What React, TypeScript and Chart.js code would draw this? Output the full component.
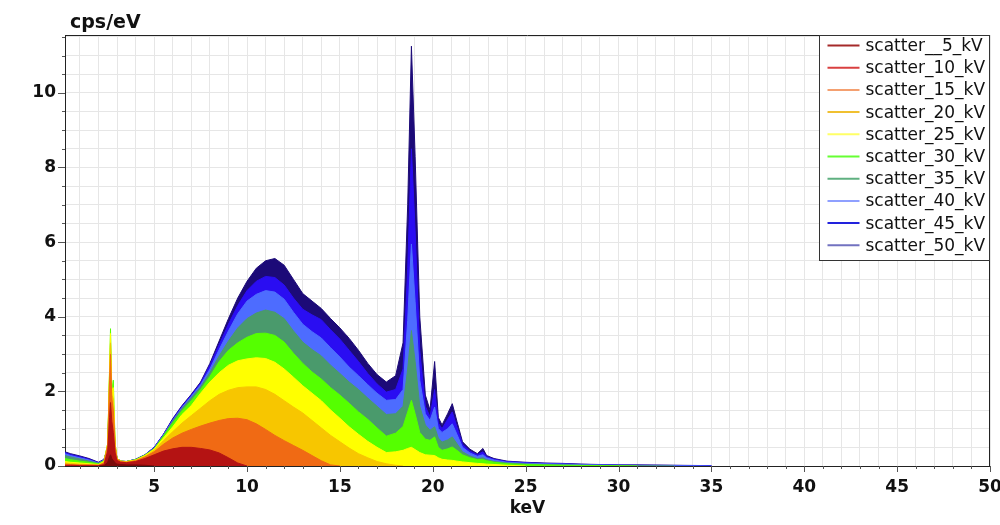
import React, { useEffect, useRef } from "react";
import { Chart, registerables } from "chart.js";

Chart.register(...registerables);

// Energy grid (keV)
const energyKeV = [
  0.2, 0.5, 1.0, 1.5, 2.0, 2.3, 2.5, 2.6, 2.65, 2.72,
  2.8, 2.9, 3.0, 3.2, 3.5, 4.0, 4.5, 5.0, 5.5, 6.0,
  6.5, 7.0, 7.5, 8.0, 8.5, 9.0, 9.5, 10.0, 10.5, 11.0,
  11.5, 12.0, 12.5, 13.0, 13.5, 14.0, 14.5, 15.0, 15.5, 16.0,
  16.5, 17.0, 17.5, 18.0, 18.4, 18.65, 18.85, 19.05, 19.3, 19.6,
  19.85, 20.1, 20.3, 20.5, 20.8, 21.05, 21.3, 21.6, 22.0, 22.4,
  22.7, 22.9, 23.3, 24.0, 25.0, 26, 27, 28, 29, 30,
  31, 33, 35,
];

// Series (cps/eV) — shorter arrays end where the spectrum ends
const scatter5kV = [
  null, null, null, null, 0, 0.01, 0.1, 0.25, 0.3, 0.2,
  0.15, 0.08, 0.05, 0.04, 0.03, 0.03, 0.02, 0,
];
const scatter10kV = [
  0.02, 0.02, 0.01, 0.01, 0.01, 0.04, 0.4, 1.3, 1.7, 1.2,
  0.9, 0.35, 0.15, 0.1, 0.09, 0.12, 0.2, 0.3, 0.4, 0.46,
  0.5, 0.5, 0.47, 0.43, 0.35, 0.22, 0.08, 0,
];
const scatter15kV = [
  0.05, 0.04, 0.03, 0.03, 0.02, 0.08, 0.55, 2.3, 3.0, 1.8,
  1.5, 0.5, 0.18, 0.12, 0.1, 0.14, 0.24, 0.38, 0.58, 0.75,
  0.88, 0.98, 1.07, 1.15, 1.22, 1.27, 1.28, 1.24, 1.13, 0.98,
  0.82, 0.68, 0.55, 0.42, 0.28, 0.14, 0.03, 0,
];
const scatter20kV = [
  0.08, 0.07, 0.05, 0.04, 0.03, 0.1, 0.6, 2.5, 3.3, 1.9,
  1.8, 0.55, 0.2, 0.13, 0.11, 0.15, 0.26, 0.42, 0.68, 0.92,
  1.15, 1.35, 1.55, 1.75, 1.92, 2.03, 2.1, 2.12, 2.12, 2.05,
  1.92, 1.75, 1.58, 1.42, 1.22, 1.02, 0.82, 0.65, 0.48, 0.33,
  0.22, 0.12, 0.06, 0.02, 0,
];
const scatter25kV = [
  0.12, 0.1, 0.08, 0.06, 0.04, 0.12, 0.6, 2.6, 3.55, 2.0,
  2.1, 0.6, 0.2, 0.13, 0.12, 0.16, 0.28, 0.45, 0.75, 1.05,
  1.38, 1.62, 1.95, 2.25, 2.5, 2.7, 2.82, 2.87, 2.9, 2.88,
  2.78, 2.6, 2.38, 2.15, 1.95, 1.75, 1.5, 1.28, 1.05, 0.85,
  0.66, 0.5, 0.36, 0.38, 0.42, 0.47, 0.5, 0.44, 0.36, 0.3,
  0.29, 0.28, 0.22, 0.18, 0.16, 0.15, 0.13, 0.11, 0.09, 0.07,
  0.06, 0.05, 0.04, 0.02, 0,
];
const scatter30kV = [
  0.2, 0.17, 0.13, 0.1, 0.06, 0.14, 0.6, 2.6, 3.68, 2.0,
  2.3, 0.6, 0.2, 0.13, 0.12, 0.17, 0.29, 0.46, 0.8, 1.15,
  1.48, 1.75, 2.05, 2.4, 2.8, 3.1, 3.3, 3.45, 3.55, 3.56,
  3.5, 3.32, 3.02, 2.75, 2.52, 2.33, 2.1, 1.9, 1.68, 1.45,
  1.25, 1.02, 0.8, 0.88, 1.06, 1.45, 1.76, 1.4, 0.9, 0.72,
  0.69, 0.78, 0.5, 0.42, 0.46, 0.51, 0.42, 0.3, 0.22, 0.17,
  0.17, 0.14, 0.1, 0.06, 0.04, 0.03, 0.02, 0.015, 0.01, 0.005,
  0,
];
const scatter35kV = [
  0.28, 0.24, 0.19, 0.13, 0.07, 0.15, 0.55, 2.4, 3.3, 1.9,
  1.6, 0.55, 0.2, 0.13, 0.12, 0.17, 0.29, 0.47, 0.82, 1.2,
  1.54, 1.83, 2.12, 2.5, 2.95, 3.35, 3.7, 3.95, 4.1, 4.18,
  4.12, 3.95, 3.62, 3.32, 3.12, 2.95, 2.7, 2.48, 2.25, 2.05,
  1.82, 1.6, 1.38, 1.4, 1.6, 2.6, 3.63, 2.8, 1.6, 1.1,
  0.96, 1.05, 0.75, 0.64, 0.7, 0.78, 0.6, 0.38, 0.27, 0.2,
  0.22, 0.17, 0.12, 0.08, 0.055, 0.04, 0.03, 0.02, 0.015, 0.01,
  0.005, 0,
];
const scatter40kV = [
  0.33, 0.28, 0.22, 0.16, 0.08, 0.16, 0.5, 2.2, 3.1, 1.8,
  1.4, 0.5, 0.2, 0.13, 0.12, 0.17, 0.29, 0.48, 0.83, 1.22,
  1.57, 1.87, 2.18, 2.6, 3.12, 3.62, 4.08, 4.42, 4.6, 4.7,
  4.66, 4.47, 4.12, 3.8, 3.6, 3.43, 3.17, 2.92, 2.65, 2.42,
  2.18, 1.95, 1.76, 1.78, 2.05, 3.9, 5.95, 4.4, 2.3, 1.4,
  1.22, 1.58, 1.0, 0.9, 1.0, 1.13, 0.85, 0.5, 0.35, 0.26,
  0.3, 0.22, 0.16, 0.1, 0.075, 0.06, 0.05, 0.035, 0.028, 0.02,
  0.015, 0.01, 0,
];
const scatter45kV = [
  0.36, 0.31, 0.25, 0.18, 0.09, 0.17, 0.5, 2.1, 2.9, 1.7,
  1.3, 0.5, 0.2, 0.13, 0.12, 0.18, 0.3, 0.5, 0.85, 1.25,
  1.6, 1.9, 2.22, 2.7, 3.25, 3.8, 4.3, 4.7, 4.95, 5.08,
  5.05, 4.85, 4.5, 4.2, 4.05, 3.92, 3.65, 3.4, 3.1, 2.8,
  2.48, 2.2, 1.98, 2.05, 2.6, 5.3, 8.5, 6.3, 3.1, 1.6,
  1.32, 2.05, 1.15, 1.0, 1.25, 1.45, 1.05, 0.58, 0.4, 0.3,
  0.38, 0.25, 0.18, 0.12, 0.09, 0.07, 0.06, 0.045, 0.035, 0.028,
  0.022, 0.015, 0.008,
];
const scatter50kV = [
  0.38, 0.33, 0.27, 0.2, 0.1, 0.18, 0.5, 2.0, 2.75, 1.6,
  1.2, 0.5, 0.2, 0.13, 0.12, 0.18, 0.3, 0.5, 0.85, 1.27,
  1.62, 1.92, 2.25, 2.75, 3.35, 3.95, 4.5, 4.95, 5.3, 5.5,
  5.56, 5.38, 5.0, 4.62, 4.42, 4.22, 3.95, 3.7, 3.42, 3.1,
  2.75, 2.45, 2.25, 2.42, 3.3, 7.0, 11.25, 8.3, 4.0, 1.9,
  1.5, 2.8, 1.3, 1.1, 1.4, 1.67, 1.2, 0.65, 0.45, 0.33,
  0.47, 0.28, 0.2, 0.13, 0.1, 0.08, 0.07, 0.05, 0.04, 0.03,
  0.03, 0.02, 0.01,
];

const seriesLabels = [
  "scatter__5_kV", "scatter_10_kV", "scatter_15_kV", "scatter_20_kV", "scatter_25_kV",
  "scatter_30_kV", "scatter_35_kV", "scatter_40_kV", "scatter_45_kV", "scatter_50_kV",
];
const seriesValues = [
  scatter5kV, scatter10kV, scatter15kV, scatter20kV, scatter25kV,
  scatter30kV, scatter35kV, scatter40kV, scatter45kV, scatter50kV,
];
const fillColors = [
  "#7a0a0a", "#b41313", "#f06a14", "#f7c600", "#ffff00",
  "#55ff00", "#4a9a6c", "#4d6cff", "#2a0df2", "#1c0a78",
];
const legendLineColors = [
  "#a52a2a", "#d94040", "#f4a070", "#f0c030", "#ffff66",
  "#66ff33", "#5fb080", "#8fa0ff", "#2222dd", "#7272c0",
];

const xLabelledTicks = [5, 10, 15, 20, 25, 30, 35, 40, 45, 50];
const yLabelledTicks = [0, 2, 4, 6, 8, 10];
const xMinorStep = 1;
const yMinorStep = 0.5;
const xRange = [0.2, 50];
const yRange = [0, 11.55];
const yAxisTitle = "cps/eV";
const xAxisTitle = "keV";

const FONT = "'DejaVu Sans', Verdana, sans-serif";

const decorPlugin = {
  id: "decor",
  afterDraw(chart: any) {
    const { ctx, chartArea: a, scales } = chart;
    const xs = scales.x;
    const ys = scales.y;
    ctx.save();
    // frame top & right
    ctx.strokeStyle = "#222";
    ctx.lineWidth = 1;
    ctx.beginPath();
    ctx.moveTo(a.left, Math.round(a.top) + 0.5);
    ctx.lineTo(a.right, Math.round(a.top) + 0.5);
    ctx.moveTo(Math.round(a.right) - 0.5, a.top);
    ctx.lineTo(Math.round(a.right) - 0.5, a.bottom);
    ctx.stroke();
    // tick marks
    ctx.strokeStyle = "#555";
    xs.ticks.forEach((t: any) => {
      const px = Math.round(xs.getPixelForValue(t.value)) + 0.5;
      const len = xLabelledTicks.includes(t.value) ? 6 : 3;
      ctx.beginPath();
      ctx.moveTo(px, a.bottom);
      ctx.lineTo(px, a.bottom + len);
      ctx.stroke();
    });
    ys.ticks.forEach((t: any) => {
      const py = Math.round(ys.getPixelForValue(t.value)) + 0.5;
      const len = yLabelledTicks.includes(t.value) ? 7 : 3;
      ctx.beginPath();
      ctx.moveTo(a.left - len, py);
      ctx.lineTo(a.left, py);
      ctx.stroke();
    });
    // y unit title
    ctx.fillStyle = "#111";
    ctx.font = `bold 19px ${FONT}`;
    ctx.textBaseline = "alphabetic";
    ctx.textAlign = "left";
    ctx.fillText(yAxisTitle, a.left + 5, a.top - 7);
    // legend box
    const lw = 170;
    const lh = 225;
    const lx = Math.round(a.right) - lw - 0.5;
    const ly = Math.round(a.top) + 0.5;
    ctx.fillStyle = "#ffffff";
    ctx.fillRect(lx, ly, lw, lh);
    ctx.strokeStyle = "#333";
    ctx.strokeRect(lx, ly, lw, lh);
    ctx.font = `17px ${FONT}`;
    ctx.textBaseline = "middle";
    chart.data.datasets.forEach((ds: any, i: number) => {
      const cy = ly + 10 + i * 22.2;
      ctx.strokeStyle = legendLineColors[i];
      ctx.lineWidth = 2;
      ctx.beginPath();
      ctx.moveTo(lx + 8, cy);
      ctx.lineTo(lx + 40, cy);
      ctx.stroke();
      ctx.fillStyle = "#111";
      ctx.fillText(ds.label, lx + 46, cy + 1);
    });
    ctx.restore();
  },
};

export default function App() {
  const canvasRef = useRef<HTMLCanvasElement | null>(null);

  useEffect(() => {
    document.body.style.margin = "0";
    Chart.defaults.font.family = FONT;
    const canvas = canvasRef.current;
    if (!canvas) return;

    const datasets = seriesLabels.map((label, i) => ({
      label,
      data: energyKeV.map((x, j) => {
        const v = seriesValues[i][j];
        return { x, y: v === undefined ? null : v };
      }),
      borderColor: fillColors[i],
      backgroundColor: fillColors[i],
      borderWidth: 1,
      fill: "origin",
      pointRadius: 0,
      tension: 0,
      spanGaps: false,
    }));

    const chart = new Chart(canvas, {
      type: "line",
      data: { datasets } as any,
      plugins: [decorPlugin],
      options: {
        animation: false,
        responsive: true,
        maintainAspectRatio: false,
        layout: { padding: { top: 35, right: 10, left: 0, bottom: 0 } },
        plugins: {
          legend: { display: false },
          tooltip: { enabled: false },
          title: { display: false },
        },
        scales: {
          x: {
            type: "linear",
            min: xRange[0],
            max: xRange[1],
            afterBuildTicks: (s: any) => {
              const t = [];
              for (let v = Math.ceil(xRange[0] / xMinorStep) * xMinorStep; v <= xRange[1] + 1e-9; v += xMinorStep) {
                t.push({ value: Math.round(v * 100) / 100 });
              }
              s.ticks = t;
            },
            afterFit: (s: any) => {
              s.height = 59;
              s.paddingRight = 0;
              s.paddingLeft = 0;
            },
            grid: { color: "#e6e6e6", lineWidth: 1, drawTicks: false },
            border: { display: true, color: "#222", width: 1 },
            ticks: {
              autoSkip: false,
              maxRotation: 0,
              padding: 11,
              color: "#111",
              font: { size: 17, weight: "bold" },
              callback: (v: any) => (xLabelledTicks.includes(v) ? String(v) : ""),
            },
            title: {
              display: true,
              text: xAxisTitle,
              color: "#111",
              font: { size: 17, weight: "bold" },
              padding: { top: 0, bottom: 6 },
            },
          },
          y: {
            type: "linear",
            min: yRange[0],
            max: yRange[1],
            afterBuildTicks: (s: any) => {
              const t = [];
              for (let v = yRange[0]; v <= yRange[1] + 1e-9; v += yMinorStep) {
                t.push({ value: Math.round(v * 100) / 100 });
              }
              s.ticks = t;
            },
            afterFit: (s: any) => {
              s.width = 65;
            },
            grid: { color: "#e6e6e6", lineWidth: 1, drawTicks: false },
            border: { display: true, color: "#222", width: 1 },
            ticks: {
              autoSkip: false,
              padding: 9,
              color: "#111",
              font: { size: 17, weight: "bold" },
              callback: (v: any) => (yLabelledTicks.includes(v) ? String(v) : ""),
            },
          },
        },
      } as any,
    });

    return () => {
      chart.destroy();
    };
  }, []);

  return (
    <div style={{ position: "relative", width: "1000px", height: "525px", background: "#fff" }}>
      <canvas ref={canvasRef} />
    </div>
  );
}
